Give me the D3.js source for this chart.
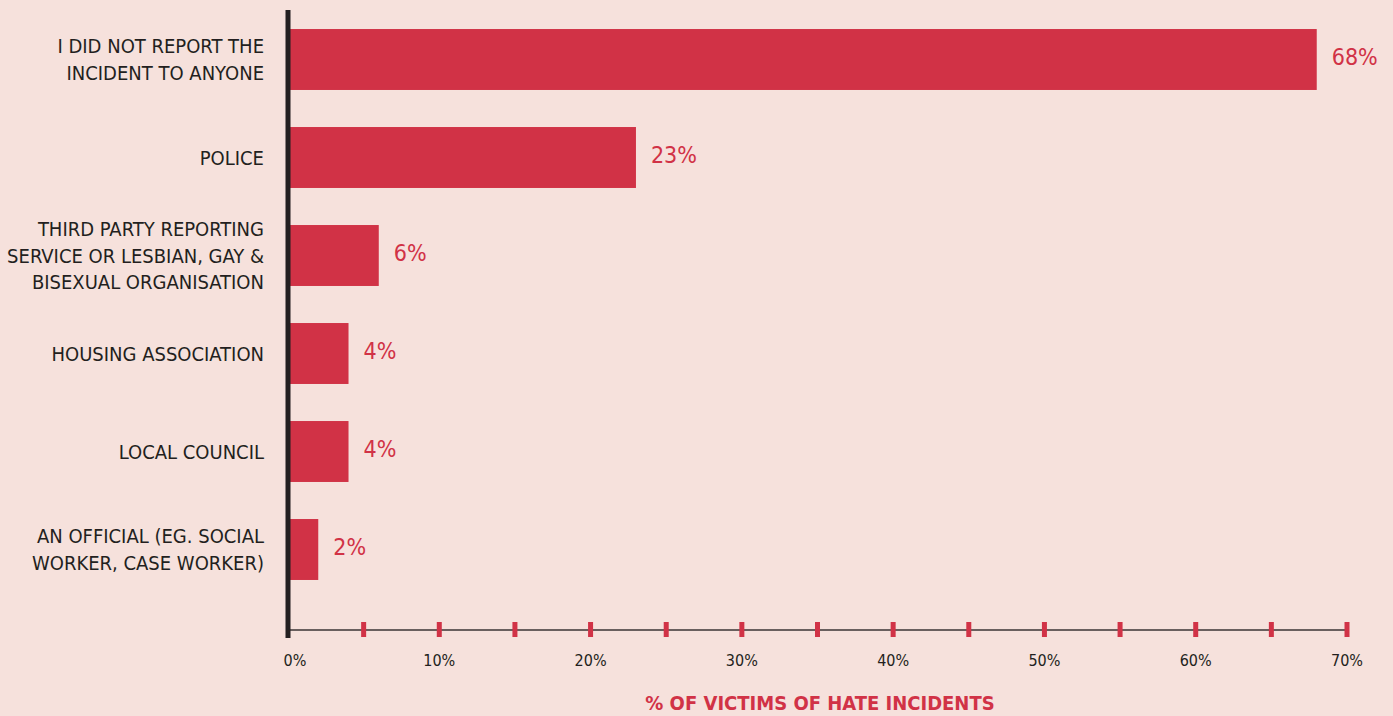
<!DOCTYPE html>
<html>
<head>
<meta charset="utf-8">
<script src="https://cdn.jsdelivr.net/npm/d3@7"></script>
<style>
  body { margin: 0; background: #f6e1dc; }
  svg { display: block; font-family: "DejaVu Sans Condensed", "DejaVu Sans", sans-serif; font-stretch: condensed; }
</style>
</head>
<body>
<svg width="1393" height="716"></svg>
<script>
// data
let categories = [
    ["I DID NOT REPORT THE", "INCIDENT TO ANYONE"],
    ["POLICE"],
    ["THIRD PARTY REPORTING", "SERVICE OR LESBIAN, GAY &", "BISEXUAL ORGANISATION"],
    ["HOUSING ASSOCIATION"],
    ["LOCAL COUNCIL"],
    ["AN OFFICIAL (EG. SOCIAL", "WORKER, CASE WORKER)"]
];
let values = [68, 23, 6, 4, 4, 2];
let tickValues = [0, 5, 10, 15, 20, 25, 30, 35, 40, 45, 50, 55, 60, 65, 70];
let tickLabels = [0, 10, 20, 30, 40, 50, 60, 70];

let red = '#d13246';
let dark = '#231f20';

let svg = d3.select('svg');
svg.append('rect').attr('width', 1393).attr('height', 716).attr('fill', '#f6e1dc');

let x0 = 288, x1 = 1347;
let baseY = 630;

let xScale = d3.scaleLinear().domain([0, 70]).range([x0, x1]);
let yScale = d3.scaleBand()
    .domain(d3.range(categories.length))
    .range([10.5, 598.5])
    .paddingInner(0.378)
    .paddingOuter(0.189);

// baseline
svg.append('line')
    .attr('x1', x0).attr('x2', x1)
    .attr('y1', baseY).attr('y2', baseY)
    .attr('stroke', '#3a3334').attr('stroke-width', 1.5);

// red tick marks
svg.selectAll('.tick-mark')
    .data(tickValues.filter(d => d > 0))
    .enter().append('rect')
    .attr('class', 'tick-mark')
    .attr('x', d => xScale(d) - 2.5)
    .attr('y', baseY - 8)
    .attr('width', 5)
    .attr('height', 15)
    .attr('fill', red);

// tick labels
svg.selectAll('.tick-label')
    .data(tickLabels)
    .enter().append('text')
    .attr('class', 'tick-label')
    .attr('x', d => xScale(d) + (d === 0 ? 7 : 0))
    .attr('y', 666)
    .attr('text-anchor', 'middle')
    .attr('fill', dark)
    .style('font-size', '16px')
    .text(d => d + '%');

// bars
svg.selectAll('.bar')
    .data(values)
    .enter().append('rect')
    .attr('class', 'bar')
    .attr('x', x0)
    .attr('y', (d, i) => yScale(i))
    .attr('width', d => xScale(d) - x0)
    .attr('height', yScale.bandwidth())
    .attr('fill', red);

// value labels
svg.selectAll('.val')
    .data(values)
    .enter().append('text')
    .attr('class', 'val')
    .attr('x', d => xScale(d) + 15)
    .attr('y', (d, i) => yScale(i) + yScale.bandwidth() / 2 + 5)
    .attr('fill', red)
    .style('font-size', '23px')
    .text(d => d + '%');

// category labels
let lh = 26.5;
svg.selectAll('.cat')
    .data(categories)
    .enter().append('text')
    .attr('class', 'cat')
    .attr('text-anchor', 'end')
    .attr('fill', dark)
    .style('font-size', '20px')
    .each(function(lines, i) {
        let cy = yScale(i) + yScale.bandwidth() / 2;
        let top = cy - (lines.length - 1) * lh / 2 + 7;
        d3.select(this).selectAll('tspan')
            .data(lines)
            .enter().append('tspan')
            .attr('x', 264)
            .attr('y', (l, j) => top + j * lh)
            .text(l => l);
    });

// y axis line
svg.append('rect')
    .attr('x', x0 - 2.5).attr('y', 10)
    .attr('width', 5).attr('height', 628)
    .attr('fill', dark);

// axis title
svg.append('text')
    .attr('x', 820)
    .attr('y', 710)
    .attr('text-anchor', 'middle')
    .attr('fill', red)
    .style('font-size', '20px')
    .style('font-weight', 'bold')
    .text('% OF VICTIMS OF HATE INCIDENTS');
</script>
</body>
</html>
